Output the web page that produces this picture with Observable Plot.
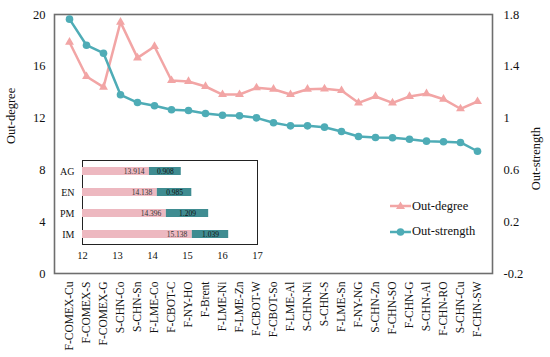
<!DOCTYPE html>
<html>
<head>
<meta charset="utf-8">
<script src="https://cdn.jsdelivr.net/npm/d3@7"></script>
<script src="https://cdn.jsdelivr.net/npm/@observablehq/plot@0.6"></script>
<style>
  html, body { margin: 0; padding: 0; background: #fff; }
  #wrap { position: relative; width: 550px; height: 357px; font-family: "Liberation Serif", "Times New Roman", serif; }
  #inset { position: absolute; left: 0; top: 150px; }
  .leg { position: absolute; left: 389px; display: flex; align-items: center; font-size: 12.5px; color: #111; }
  .leg svg { display: block; }
</style>
</head>
<body>
<div id="wrap">
  <div id="main"></div>
  <div id="inset"></div>
  <div class="leg" style="top:198px"><svg width="23" height="16"><line x1="1" x2="22" y1="8" y2="8" stroke="#f2a5a5" stroke-width="2.5"/><path d="M11.5,3.5 L16,11 L7,11 Z" fill="#f2a5a5"/></svg><span>Out-degree</span></div>
  <div class="leg" style="top:223.5px"><svg width="23" height="16"><line x1="1" x2="22" y1="8" y2="8" stroke="#4eacb6" stroke-width="2.5"/><circle cx="11.5" cy="8" r="3.8" fill="#4eacb6"/></svg><span>Out-strength</span></div>
</div>
<script>
// ---- data ----
const categories = ["F-COMEX-Cu","F-COMEX-S","F-COMEX-G","S-CHN-Co","S-CHN-Sn","F-LME-Co","F-CBOT-C","F-NY-HO","F-Brent","F-LME-Ni","F-LME-Zn","F-CBOT-W","F-CBOT-So","F-LME-Al","S-CHN-Ni","S-CHN-S","F-LME-Sn","F-NY-NG","S-CHN-Zn","F-CHN-SO","F-CHN-G","S-CHN-Al","F-CHN-RO","S-CHN-Cu","F-CHN-SW"];
const outDegree = [17.86,15.21,14.39,19.41,16.65,17.53,14.90,14.83,14.44,13.82,13.82,14.34,14.23,13.82,14.23,14.26,14.13,13.18,13.67,13.18,13.67,13.88,13.46,12.72,13.28];
const outStrength = [1.764,1.563,1.501,1.180,1.120,1.095,1.064,1.059,1.036,1.022,1.018,1.002,0.964,0.940,0.940,0.930,0.897,0.858,0.850,0.848,0.837,0.822,0.817,0.812,0.744];
const leftTicks = [0,4,8,12,16,20];
const rightTicks = [-0.2,0.2,0.6,1,1.4,1.8];

const groups = ["AG","EN","PM","IM"];
const groupDegree = [13.914,14.138,14.396,15.138];
const groupStrength = [0.908,0.985,1.209,1.039];
const insetTicks = [12,13,14,15,16,17];

// ---- colours ----
const pink = "#f2a5a5", teal = "#4eacb6";
const barPink = "#edb8c0", barTeal = "#3f8c91";

// right axis (-0.2..1.8) mapped onto left axis (0..20)
const toLeft = v => (v + 0.2) * 10;
const fromLeft = d => String(+(d / 10 - 0.2).toFixed(1));

const rowsDeg = categories.map((c, i) => ({c, v: outDegree[i]}));
const rowsStr = categories.map((c, i) => ({c, v: toLeft(outStrength[i])}));

const main = Plot.plot({
  width: 550, height: 357,
  marginLeft: 54, marginRight: 58, marginTop: 14, marginBottom: 84,
  style: {fontFamily: "Liberation Serif, Times New Roman, serif", fontSize: "12px", color: "#111", background: "transparent", overflow: "visible"},
  x: {type: "point", domain: categories, padding: 0.5},
  y: {domain: [0, 20]},
  marks: [
    Plot.frame({stroke: "#6e6e6e", strokeWidth: 1.6}),
    Plot.axisY({ticks: leftTicks, tickSize: 0, tickPadding: 9, label: null, fontSize: 12.5}),
    Plot.axisY({anchor: "right", ticks: rightTicks.map(toLeft), tickFormat: fromLeft, tickSize: 0, tickPadding: 11, label: null, fontSize: 12.5}),
    Plot.axisX({tickRotate: -90, tickSize: 0, tickPadding: 8, label: null, fontSize: 11.5}),
    Plot.text(["Out-degree"], {frameAnchor: "left", text: d => d, rotate: -90, dx: -44, fontSize: 12.5}),
    Plot.text(["Out-strength"], {frameAnchor: "right", text: d => d, rotate: -90, dx: 43, dy: -17, fontSize: 12.5}),
    Plot.line(rowsDeg, {x: "c", y: "v", stroke: pink, strokeWidth: 2.5}),
    Plot.dot(rowsDeg, {x: "c", y: "v", symbol: "triangle", r: 3.3, fill: pink}),
    Plot.line(rowsStr, {x: "c", y: "v", stroke: teal, strokeWidth: 2.5}),
    Plot.dot(rowsStr, {x: "c", y: "v", symbol: "circle", r: 3.8, fill: teal})
  ]
});
document.getElementById("main").appendChild(main);

const gRows = groups.map((g, i) => ({g, d: groupDegree[i], s: groupStrength[i], e: groupDegree[i] + groupStrength[i]}));

const inset = Plot.plot({
  width: 270, height: 115,
  marginLeft: 82, marginRight: 13, marginTop: 10, marginBottom: 21,
  style: {fontFamily: "Liberation Serif, Times New Roman, serif", fontSize: "10px", color: "#111", background: "transparent", overflow: "visible"},
  x: {domain: [12, 17]},
  y: {type: "band", domain: groups, paddingInner: 0.64, paddingOuter: 0.32},
  marks: [
    Plot.frame({stroke: "#222", strokeWidth: 1, fill: "#fff"}),
    Plot.barX(gRows, {y: "g", x1: 12, x2: "d", fill: barPink}),
    Plot.barX(gRows, {y: "g", x1: "d", x2: "e", fill: barTeal}),
    Plot.text(gRows, {y: "g", x: "d", text: d => d.d.toFixed(3), textAnchor: "end", dx: -5, fontSize: 7.5, fill: "#333"}),
    Plot.text(gRows, {y: "g", x: d => d.d + d.s / 2, text: d => d.s.toFixed(3), fontSize: 7.5, fill: "#111"}),
    Plot.axisX({ticks: insetTicks, tickFormat: d => String(d), tickSize: 0, tickPadding: 7, label: null, fontSize: 10.5}),
    Plot.axisY({tickSize: 0, tickPadding: 8, label: null, fontSize: 10})
  ]
});
document.getElementById("inset").appendChild(inset);
</script>
</body>
</html>
